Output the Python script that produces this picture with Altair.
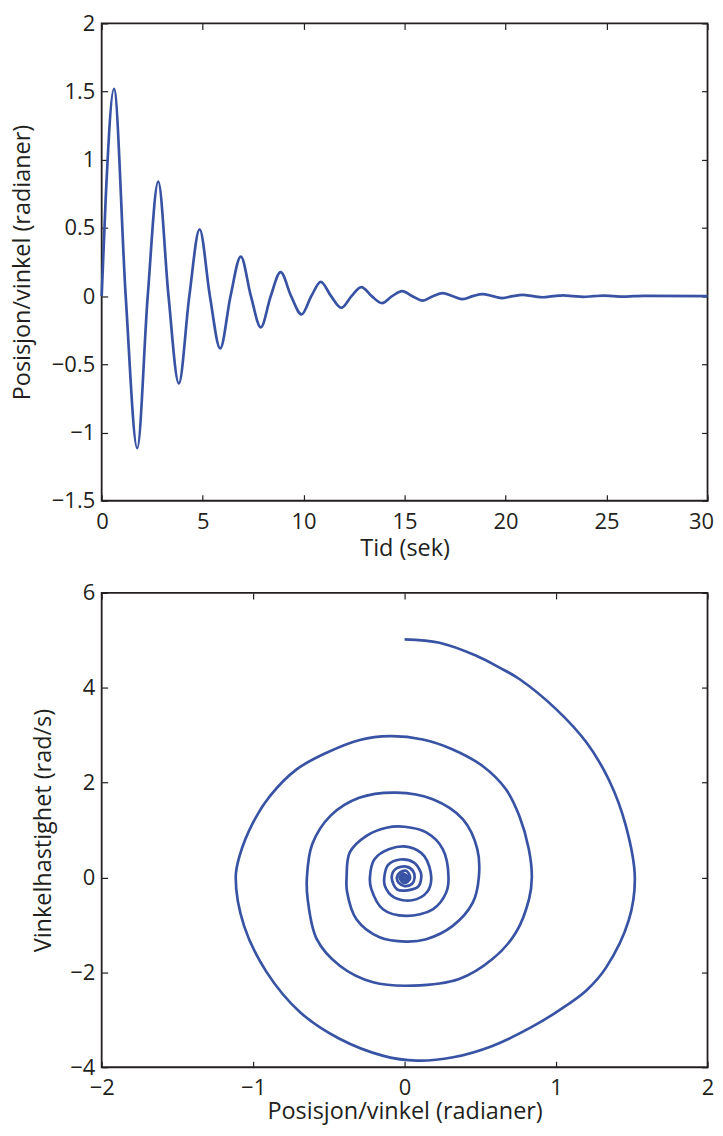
import altair as alt
import pandas as pd

# ---------------- top panel: angle vs time ----------------
time_s = [0, 0.2, 0.61, 1.19, 1.76, 2.28, 2.80, 3.31, 3.82, 4.34, 4.85, 5.36, 5.87,
          6.38, 6.89, 7.39, 7.88, 8.37, 8.86, 9.38, 9.90, 10.38, 10.85, 11.36, 11.87,
          12.37, 12.86, 13.37, 13.88, 14.38, 14.88, 15.39, 15.90, 16.40, 16.89, 17.39,
          17.88, 18.37, 18.86, 19.36, 19.85, 20.35, 20.85, 21.35, 21.85, 22.35, 22.85,
          23.35, 23.85, 24.35, 24.85, 25.35, 25.85, 26.35, 26.85, 30]
angle_rad = [0, 0.72, 1.52, 0, -1.115, 0, 0.84, 0, -0.64, 0, 0.49, 0, -0.383,
             0, 0.29, 0, -0.229, 0, 0.176, 0, -0.134, 0, 0.105, 0, -0.085,
             0, 0.066, 0, -0.051, 0, 0.037, 0, -0.032, 0, 0.022, 0,
             -0.022, 0, 0.015, 0, -0.014, 0, 0.009, 0, -0.008, 0, 0.006,
             0, -0.005, 0, 0.004, 0, -0.003, 0, 0.002, 0]

# ---------------- bottom panel: phase portrait ----------------
pos = [0.00, 0.23, 0.47, 0.63, 0.76, 1.00, 1.20, 1.35, 1.46, 1.52,
       1.48, 1.33, 1.20, 1.02, 0.84, 0.58, 0.32, 0.08,
       -0.14, -0.43, -0.69, -0.91, -1.06, -1.115,
       -1.09, -1.00, -0.888, -0.713, -0.515, -0.296, -0.099, 0.12, 0.318, 0.515, 0.669, 0.757, 0.82, 0.84,
       0.822, 0.735, 0.58, 0.36, 0.055, -0.208, -0.428, -0.58, -0.64, -0.645,
       -0.61, -0.49, -0.30, -0.055, 0.186, 0.384, 0.48, 0.49,
       0.45, 0.318, 0.143, 0.01, -0.165, -0.318, -0.38, -0.383,
       -0.362, -0.252, -0.12, 0.0, 0.143, 0.252, 0.29,
       0.274, 0.186, 0.01, -0.143, -0.22, -0.229,
       -0.20, -0.10, 0.03, 0.13, 0.176,
       0.15, 0.05, -0.07, -0.13, -0.134,
       -0.11, -0.03, 0.06, 0.105, 0.11,
       0.09, 0.02, -0.05, -0.085,
       -0.06, 0.01, 0.055, 0.066,
       0.05, 0.0, -0.04, -0.051,
       -0.03, 0.01, 0.037,
       0.02, -0.01, -0.032,
       -0.01, 0.022,
       0.01, -0.022,
       0.0, 0.015, 0.0, -0.014, 0.0, 0.009, 0.0, 0.0]
vel = [5.02, 4.95, 4.68, 4.42, 4.18, 3.55, 2.85, 2.05, 1.10, 0.00,
       -0.90, -1.90, -2.38, -2.80, -3.15, -3.55, -3.79, -3.86,
       -3.76, -3.40, -2.84, -2.00, -1.02, 0.0,
       0.45, 1.16, 1.72, 2.28, 2.63, 2.90, 2.98, 2.91, 2.70, 2.35, 1.86, 1.30, 0.60, 0.0,
       -0.45, -1.16, -1.72, -2.14, -2.28, -2.21, -1.86, -1.30, -0.45, 0.0,
       0.70, 1.30, 1.68, 1.79, 1.65, 1.23, 0.60, 0.0,
       -0.53, -1.02, -1.30, -1.35, -1.26, -0.88, -0.30, 0.0,
       0.53, 0.88, 1.05, 1.07, 0.95, 0.60, 0.0,
       -0.32, -0.67, -0.81, -0.67, -0.24, 0.0,
       0.38, 0.60, 0.64, 0.45, 0.0,
       -0.30, -0.48, -0.42, -0.18, 0.0,
       0.26, 0.38, 0.32, 0.12, 0.0,
       -0.19, -0.27, -0.25, 0.0,
       0.18, 0.23, 0.14, 0.0,
       -0.13, -0.18, -0.11, 0.0,
       0.11, 0.14, 0.0,
       -0.09, -0.105, 0.0,
       0.08, 0.0,
       -0.06, 0.0,
       0.05, 0.0, -0.04, 0.0, 0.03, 0.0, -0.02, 0.0]

x_ticks_top = [0, 5, 10, 15, 20, 25, 30]
y_ticks_top = [-1.5, -1, -0.5, 0, 0.5, 1, 1.5, 2]
x_ticks_bot = [-2, -1, 0, 1, 2]
y_ticks_bot = [-4, -2, 0, 2, 4, 6]

BLUE = "#3953A4"
DARK = "#231F20"
FONT = "Open Sans"
LABEL_FS = 22
TITLE_FS = 23.5
LW = 2.7


def main_axis(values, title, orient, fmt=None, label_pad=8, title_pad=6, flush=False):
    kw = dict(values=values, title=title, orient=orient, offset=-6, tickSize=6,
              tickWidth=1.2, domain=False, grid=False, labelPadding=label_pad,
              titlePadding=title_pad)
    if flush:
        kw["labelFlush"] = True
        kw["labelFlushOffset"] = 6
    else:
        kw["labelFlush"] = False
    if fmt:
        kw["format"] = fmt
    return alt.Axis(**kw)


def mirror_axis(values, orient):
    return alt.Axis(values=values, title=None, orient=orient, offset=-6, tickSize=6,
                    tickWidth=1.2, domain=False, grid=False, labels=False)


# top panel
top_df = pd.DataFrame({"t": time_s, "theta": angle_rad})
xs_top = alt.Scale(domain=[0, 30], nice=False, zero=False)
ys_top = alt.Scale(domain=[-1.5, 2], nice=False, zero=False)

top_line = alt.Chart(top_df).mark_line(interpolate="monotone", color=BLUE, strokeWidth=LW).encode(
    x=alt.X("t:Q", scale=xs_top, axis=main_axis(x_ticks_top, "Tid (sek)", "bottom", label_pad=11, title_pad=4, flush=True)),
    y=alt.Y("theta:Q", scale=ys_top, axis=main_axis(y_ticks_top, "Posisjon/vinkel (radianer)", "left", fmt=".1~f", label_pad=7, title_pad=17)),
)
top_mirror = alt.Chart(top_df).mark_line(interpolate="monotone", strokeOpacity=0).encode(
    x=alt.X("t:Q", scale=xs_top, axis=mirror_axis(x_ticks_top, "top")),
    y=alt.Y("theta:Q", scale=ys_top, axis=mirror_axis(y_ticks_top, "right")),
)
top = alt.layer(top_line, top_mirror).resolve_axis(x="independent", y="independent").properties(
    width=608, height=479)

# bottom panel
bot_df = pd.DataFrame({"k": list(range(len(pos))), "pos": pos, "vel": vel})
xs_bot = alt.Scale(domain=[-2, 2], nice=False, zero=False)
ys_bot = alt.Scale(domain=[-4, 6], nice=False, zero=False)

bot_line = alt.Chart(bot_df).mark_line(interpolate="catmull-rom", color=BLUE, strokeWidth=LW).encode(
    x=alt.X("pos:Q", scale=xs_bot, axis=main_axis(x_ticks_bot, "Posisjon/vinkel (radianer)", "bottom", label_pad=10, title_pad=1.5)),
    y=alt.Y("vel:Q", scale=ys_bot, axis=main_axis(y_ticks_bot, "Vinkelhastighet (rad/s)", "left", label_pad=7, title_pad=14)),
    order=alt.Order("k:Q"),
)
bot_mirror = alt.Chart(bot_df).mark_line(strokeOpacity=0).encode(
    x=alt.X("pos:Q", scale=xs_bot, axis=mirror_axis(x_ticks_bot, "top")),
    y=alt.Y("vel:Q", scale=ys_bot, axis=mirror_axis(y_ticks_bot, "right")),
    order=alt.Order("k:Q"),
)
bottom = alt.layer(bot_line, bot_mirror).resolve_axis(x="independent", y="independent").properties(
    width=608, height=476)

chart = alt.vconcat(top, bottom, spacing=19.5).properties(
    padding={"left": 1, "top": 1.5, "right": -0.5, "bottom": 0}
).configure_axis(
    labelFont=FONT, titleFont=FONT, labelFontSize=LABEL_FS, titleFontSize=TITLE_FS,
    labelColor=DARK, titleColor=DARK, titleFontWeight="normal", tickColor=DARK,
).configure_view(stroke=DARK, strokeWidth=1.8)

chart.save("out.html", embed_options={"renderer": "svg", "actions": False})
